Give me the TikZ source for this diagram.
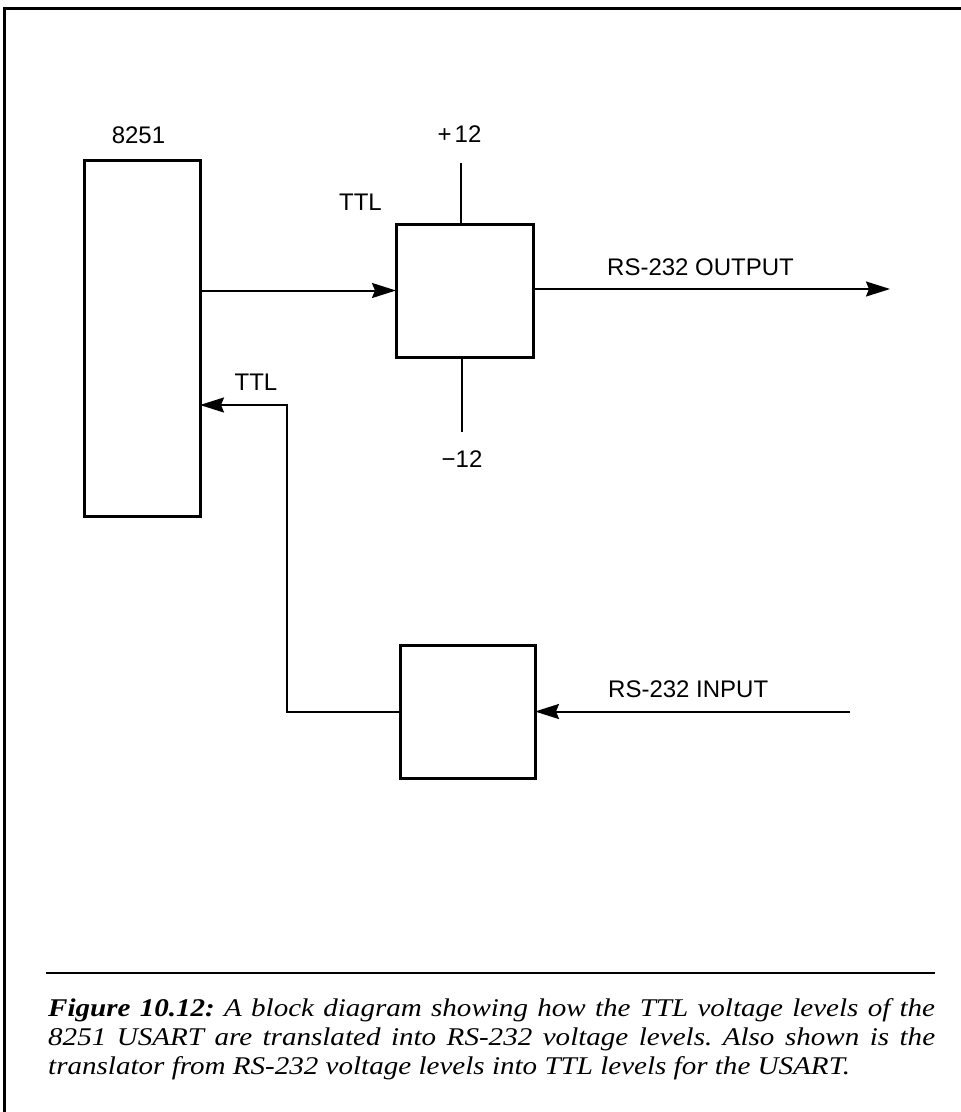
\documentclass[tikz,border=0pt]{standalone}
\usepackage{fontspec}
\setmainfont{Liberation Serif}
\newfontfamily\labelfont{Liberation Sans}
\usetikzlibrary{arrows.meta}
\tikzset{
  blockbox/.style={draw, line width=3pt, inner sep=0pt, outer sep=0pt},
  wire/.style={line width=2pt},
  arr/.style={wire, -{Stealth[length=24pt,width=15pt,inset=3pt]}},
  lbl/.style={font=\labelfont\fontsize{24}{28}\selectfont, inner sep=0pt, anchor=base},
  frameline/.style={line width=3pt},
}
\begin{document}
\begin{tikzpicture}[x=1pt,y=-1pt]
\useasboundingbox (0,0) rectangle (961,1112);
% frame
\draw[frameline] (4.5,1112) -- (4.5,8.5) -- (961,8.5);
% blocks
\node[blockbox, minimum width=116pt, minimum height=356pt] (usart) at (142,338) {};
\node[blockbox, minimum width=137pt, minimum height=133pt] (drv) at (464.5,290.5) {};
\node[blockbox, minimum width=135pt, minimum height=133pt] (rcv) at (467.5,711.5) {};
% coordinates
\coordinate (vp) at (461,163);
\coordinate (vm) at (462,432);
\coordinate (outEnd) at (890,289);
\coordinate (inEnd) at (850,711.5);
\coordinate (bend) at (287,405);
% connectors
\draw[arr] (usart.east |- drv.west) -- (drv.west);
\draw[arr] (drv.east |- outEnd) -- (outEnd);
\draw[wire] (vp) -- (vp |- drv.north);
\draw[wire] (vm) -- (vm |- drv.south);
\draw[arr] (inEnd) -- (rcv.east |- inEnd);
\draw[arr] (rcv.west) -| (bend) -- (usart.east |- bend);
% labels
\node[lbl] (l8251) at (138.5,143) {8251};
\node[lbl] (lplus) at (459.5,142) {+\kern3pt12};
\node[lbl] (lttl1) at (360.5,210) {TTL};
\node[lbl, anchor=base west] (lout) at (607,275) {RS-232 OUTPUT};
\node[lbl] (lttl2) at (256,390) {TTL};
\node[lbl] (lminus) at (462,467) {−12};
\node[lbl, anchor=base west] (lin) at (608,697) {RS-232 INPUT};
% caption
\draw[line width=2.5pt] (46,973) -- (935,973);
\node[anchor=north west, inner sep=0pt,
      font=\itshape\fontsize{25.5}{29}\selectfont] (cap) at (48,998)
 {\scalebox{1.14}[1]{\parbox[t]{778pt}{\itshape\frenchspacing
 \textbf{Figure 10.12:} A block diagram showing how the TTL voltage levels of the\linebreak
 8251 USART are translated into RS-232 voltage levels. Also shown is the\linebreak
 translator from RS-232 voltage levels into TTL levels for the USART.}}};
\end{tikzpicture}
\end{document}
